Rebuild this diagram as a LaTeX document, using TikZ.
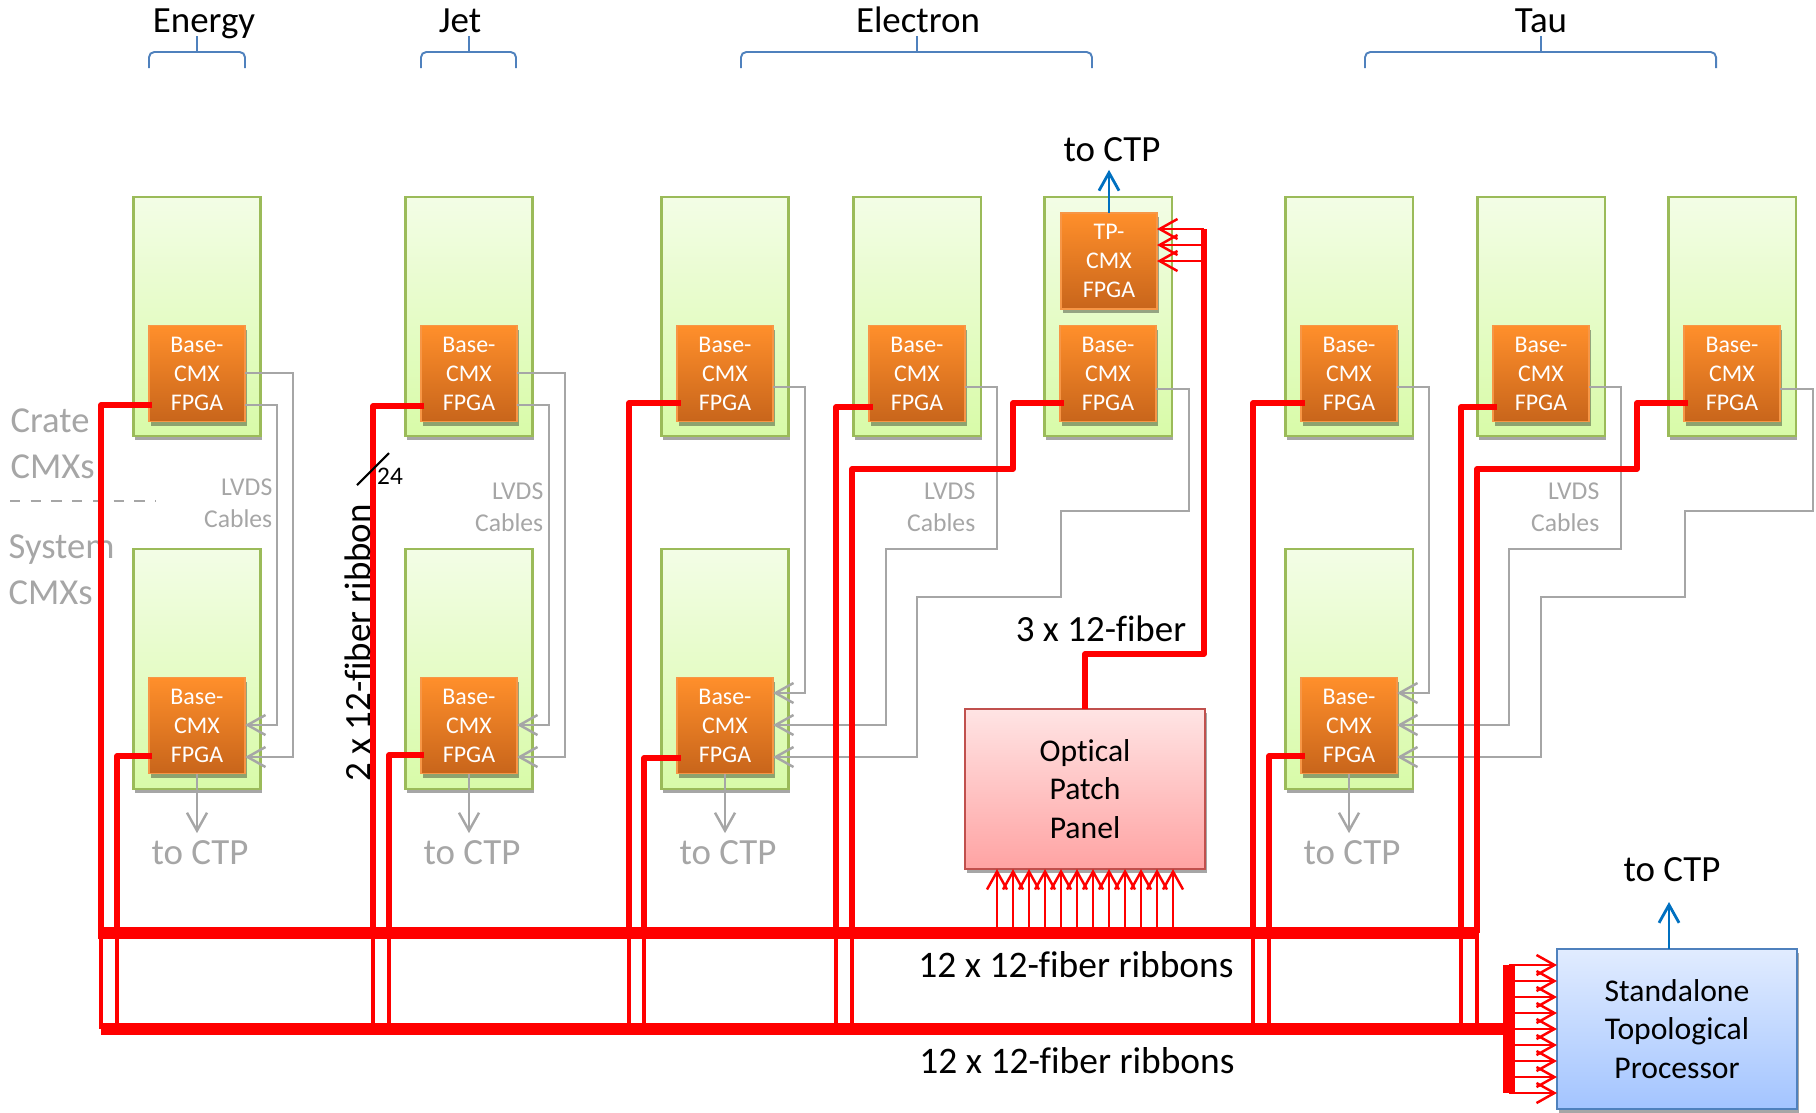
\documentclass[tikz,border=0pt]{standalone}
\usepackage{fontspec}
\setmainfont[Ligatures=NoCommon]{Carlito}
\usepackage{xcolor}
\usetikzlibrary{arrows.meta,shadows}
\definecolor{lvdsgray}{HTML}{A6A6A6}
\definecolor{ctpblue}{HTML}{0070C0}
\definecolor{bracketblue}{HTML}{4F81BD}
\definecolor{boardline}{HTML}{9BBB59}
\definecolor{boardtop}{HTML}{F3FDE6}
\definecolor{boardbot}{HTML}{D8FBA8}
\definecolor{fpgaline}{HTML}{F79646}
\definecolor{fpgatop}{HTML}{FF8F2B}
\definecolor{fpgabot}{HTML}{C8651B}
\definecolor{oppline}{HTML}{C0504D}
\definecolor{opptop}{HTML}{FFE4E4}
\definecolor{oppbot}{HTML}{FFA3A3}
\definecolor{stptop}{HTML}{E1ECFF}
\definecolor{stpbot}{HTML}{A3C4FF}
\tikzset{
  cardshadow/.style={drop shadow={shadow xshift=.5pt,shadow yshift=-1.2pt,opacity=.35,fill=black}},
  board/.style={draw=boardline,line width=.6pt,top color=boardtop,bottom color=boardbot,cardshadow,minimum width=1.27cm,minimum height=2.39cm,outer sep=0pt},
  fpga/.style={draw=fpgaline,line width=.5pt,top color=fpgatop,bottom color=fpgabot,cardshadow,minimum width=.96cm,minimum height=.96cm,inner sep=0pt,outer sep=0pt,align=center,text=white,font=\fontsize{6.8}{8.25}\selectfont},
  fpgatext/.style={fpga},
  bigbox/.style={line width=.7pt,cardshadow,outer sep=0pt,minimum width=2.4cm,minimum height=1.6cm,align=center,font=\fontsize{9}{10.9}\selectfont},
  big/.style={font=\fontsize{10.5}{12.5}\selectfont,inner sep=2pt},
  muted/.style={big,text=lvdsgray},
  cables/.style={text=lvdsgray,anchor=east,align=right,inner sep=0pt,font=\fontsize{7.3}{9.2}\selectfont},
  lvds/.style={draw=lvdsgray,line width=.7pt},
  ribbon/.style={draw=red,line width=1.6pt,line join=round},
  ribbonthin/.style={draw=red,line width=1.15pt},
  bus/.style={draw=red,line width=3.4pt},
  fiber/.style={draw=red,line width=.7pt,->},
  ctparrow/.style={draw=ctpblue,line width=.8pt,->},
  bracket/.style={draw=bracketblue,line width=.55pt,rounded corners=1.5pt},
}
\begin{document}
\begin{tikzpicture}[x=.01cm,y=-.01cm,>={Straight Barb[length=5.1pt,width=5.7pt]}]
\useasboundingbox (0,0) rectangle (1816,1112);
\foreach \lft/\mid/\rgt/\lx/\lbl in {149/197/245/204/Energy,421/469/516/460/Jet,741/917/1092/918/Electron,1365/1541/1716/1541/Tau}{
  \node[big,anchor=base] (\lbl) at (\lx,32) {\lbl};
  \coordinate (\lbl M) at (\mid,52);
  \coordinate (\lbl T) at (\mid,36);
  \draw[bracket] (\lft,68) |- (\lbl M) -| (\rgt,68);
  \draw[bracket] (\lbl M) -- (\lbl T);
}
\foreach \name/\cx in {enCrate/197,jetCrate/469,el1/725,el2/917,el3/1108,tau1/1349,tau2/1541,tau3/1732}{
  \node[board] (\name board) at (\cx,316.5) {};
  \node[fpga] (\name) at (\cx,373.5) {Base-\\CMX\\FPGA};
}
\foreach \name/\cx in {enSys/197,jetSys/469,elSys/725,tauSys/1349}{
  \node[board] (\name board) at (\cx,669) {};
  \node[fpga] (\name) at (\cx,725.5) {Base-\\CMX\\FPGA};
}
\node[fpga] (tp) at (1109,261) {TP-\\CMX\\FPGA};
\node[bigbox,draw=oppline,top color=opptop,bottom color=oppbot] (opp) at (1085,789) {Optical\\Patch\\Panel};
\node[bigbox,draw=bracketblue,top color=stptop,bottom color=stpbot] (stp) at (1677,1029) {Standalone\\Topological\\Processor};

\node[muted,anchor=west,align=left,inner sep=0pt,font=\fontsize{10.4}{13}\selectfont] (crate) at (10,444) {Crate\\CMXs};
\node[muted,anchor=west,align=left,inner sep=0pt,font=\fontsize{10.4}{13}\selectfont] (system) at (8,570) {System\\CMXs};
\coordinate (splitL) at (10,501);
\coordinate (splitR) at (156,501);
\draw[lvds,dash pattern=on 2.9pt off 3pt] (splitL) -- (splitR);

\node[cables] (lvdsEn) at (273,503) {LVDS\\Cables};
\node[cables] (lvdsJet) at (544,507) {LVDS\\Cables};
\node[cables] (lvdsEl) at (976,507) {LVDS\\Cables};
\node[cables] (lvdsTau) at (1600,507) {LVDS\\Cables};

\draw[lvds,->] (enCrate.east |- 0,373) -| (293,757) -- (enSys.east |- 0,757);
\draw[lvds,->] (enCrate.east |- 0,405) -| (277,725) -- (enSys.east |- 0,725);
\draw[lvds,->] (jetCrate.east |- 0,373) -| (565,757) -- (jetSys.east |- 0,757);
\draw[lvds,->] (jetCrate.east |- 0,405) -| (549,725) -- (jetSys.east |- 0,725);
\draw[lvds,->] (el1.east |- 0,387) -| (805,693) -- (elSys.east |- 0,693);
\draw[lvds,->] (el2.east |- 0,387) -| (997,549) -| (886,725) -- (elSys.east |- 0,725);
\draw[lvds,->] (el3.east |- 0,389) -| (1189,511) -| (1061,597) -| (917,757) -- (elSys.east |- 0,757);
\draw[lvds,->] (tau1.east |- 0,387) -| (1429,693) -- (tauSys.east |- 0,693);
\draw[lvds,->] (tau2.east |- 0,387) -| (1621,549) -| (1509,725) -- (tauSys.east |- 0,725);
\draw[lvds,->] (tau3.east |- 0,389) -| (1813,511) -| (1685,597) -| (1541,757) -- (tauSys.east |- 0,757);

\foreach \name/\lx in {enSys/200,jetSys/472,elSys/728,tauSys/1352}{
  \node[muted] (ctp\name) at (\lx,853) {to CTP};
  \draw[lvds,->] (\name.south) -- (\name.south |- ctp\name.north);
}

\coordinate (topbusL) at (98,933);
\coordinate (topbusR) at (1479,933);
\coordinate (lowbusL) at (101,1029);
\coordinate (lowbusR) at (1509,1029);
\coordinate (barT) at (1509,965);
\coordinate (barB) at (1509,1093);
\foreach \name/\xa/\ya in {enCrate/101/405,enSys/117/756,jetCrate/373/406,jetSys/389/755,el1/629/403,elSys/644/758,el2/836/407,tau1/1253/403,tauSys/1269/756,tau2/1461/407}{
  \draw[ribbon] ([xshift=1pt]\name.west |- 0,\ya) -| (\xa,933);
  \draw[ribbonthin] (\xa,933) -- (\xa,1029);
}
\draw[ribbon] ([xshift=1pt]el3.west |- 0,403) -| (1013,469) -| (852,933);
\draw[ribbonthin] (852,933) -- (852,1029);
\draw[ribbon] ([xshift=1pt]tau3.west |- 0,403) -| (1637,469) -| (1477,933);
\draw[ribbonthin] (1477,933) -- (1477,1029);
\draw[bus] (topbusL) -- (topbusR);
\draw[bus] (lowbusL) -- (lowbusR);
\draw[bus] (barT) -- (barB);
\foreach \xa in {997,1013,...,1173}
  \draw[fiber] (\xa,933) -- (\xa,933 |- opp.south);
\foreach \ya in {965,981,...,1093}
  \draw[fiber] (1509,\ya) -- (stp.west |- 0,\ya);
\draw[ribbon] (opp.north) |- (1204,654) -- (1204,229);
\foreach \ya in {229,245,261}
  \draw[fiber] (1204,\ya) -- (tp.east |- 0,\ya);

\node[big] (ctpTp) at (1112,150) {to CTP};
\draw[ctparrow] (tp.north) -- (tp.north |- ctpTp.south);
\node[big] (ctpStp) at (1672,870) {to CTP};
\coordinate (stpEnd) at (1669,902);
\draw[ctparrow] (stpEnd |- stp.north) -- (stpEnd);
\node[big] (threefiber) at (1101,629) {3 x 12-fiber};
\node[big,font=\fontsize{10.65}{12.5}\selectfont] (upperribbons) at (1076,965) {12 x 12-fiber ribbons};
\node[big,font=\fontsize{10.65}{12.5}\selectfont] (lowerribbons) at (1077,1061) {12 x 12-fiber ribbons};
\node[big,rotate=90,font=\fontsize{10.5}{12.5}\selectfont] (twofiber) at (358,643) {2 x 12-fiber ribbon};
\coordinate (slashA) at (357,485);
\coordinate (slashB) at (389,453);
\draw[line width=.6pt] (slashA) -- (slashB);
\node[inner sep=0pt,font=\fontsize{7.2}{9}\selectfont] (fibercount) at (390,476) {24};
\end{tikzpicture}
\end{document}
